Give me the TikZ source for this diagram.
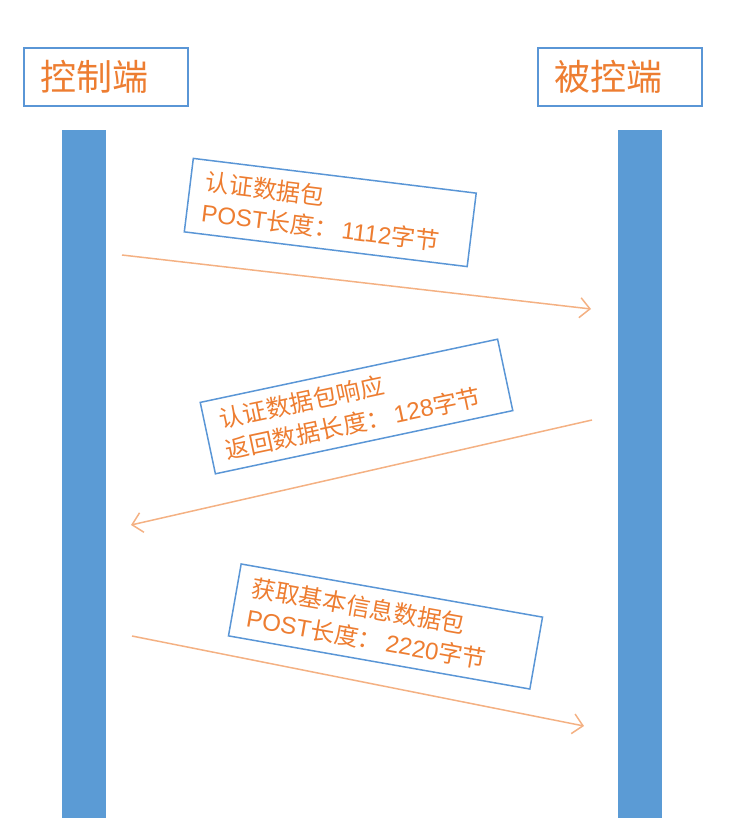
\documentclass[tikz,border=0pt]{standalone}
\usepackage{fontspec}
\setmainfont{Noto Sans CJK SC}
\newfontfamily\lat{Liberation Sans}
\usetikzlibrary{arrows.meta}
\definecolor{barblue}{HTML}{5B9BD5}
\definecolor{boxblue}{HTML}{5A96D6}
\definecolor{txtorange}{HTML}{ED7D31}
\definecolor{arrorange}{HTML}{F4B183}
\tikzset{
  hdr/.style={draw=boxblue, line width=1.6pt, minimum height=58pt, inner xsep=16pt, text width=132pt, align=left,
    text=txtorange, font={\fontsize{36}{40}\selectfont}},
  bar/.style={fill=barblue, draw=none, minimum width=44pt, minimum height=688pt, inner sep=0pt},
  msgbox/.style={draw=boxblue, line width=1.5pt, inner xsep=15pt, inner ysep=4pt, align=left,
    text=txtorange, font={\fontsize{24}{31}\selectfont}},
  msgarrow/.style={draw=arrorange, line width=1.5pt, -{Straight Barb[length=10pt,width=20pt]}}
}
\newcommand{\cln}{：\hspace{4pt}}
\begin{document}
\begin{tikzpicture}[x=1pt,y=-1pt]
\useasboundingbox (0,0) rectangle (732,832);
% headers
\node[hdr] (ctl) at (106,77) {控制端};
\node[hdr] (cted) at (620,77) {被控端};
% bars
\node[bar] (lbar) at (84,474) {};
\node[bar] (rbar) at (640,474) {};
% message boxes
\node[msgbox, rotate=-7, text width=255pt, minimum height=74pt] (m1) at (330.25,212.5)
  {认证数据包\\{\lat POST}长度\cln{\lat 1112}字节};
\node[msgbox, rotate=12, text width=274pt, minimum height=73pt] (m2) at (356.5,406.5)
  {认证数据包响应\\返回数据长度\cln{\lat 128}字节};
\node[msgbox, rotate=-10, text width=276pt, minimum height=73pt] (m3) at (385.5,626.5)
  {获取基本信息数据包\\{\lat POST}长度\cln{\lat 2220}字节};
% arrow endpoints
\coordinate (a1s) at (122,255);
\coordinate (a1e) at (591,309);
\coordinate (a2s) at (592,420);
\coordinate (a2e) at (131,525);
\coordinate (a3s) at (132,636);
\coordinate (a3e) at (584,726);
\draw[msgarrow] (a1s) -- (a1e);
\draw[msgarrow] (a2s) -- (a2e);
\draw[msgarrow] (a3s) -- (a3e);
\end{tikzpicture}
\end{document}
